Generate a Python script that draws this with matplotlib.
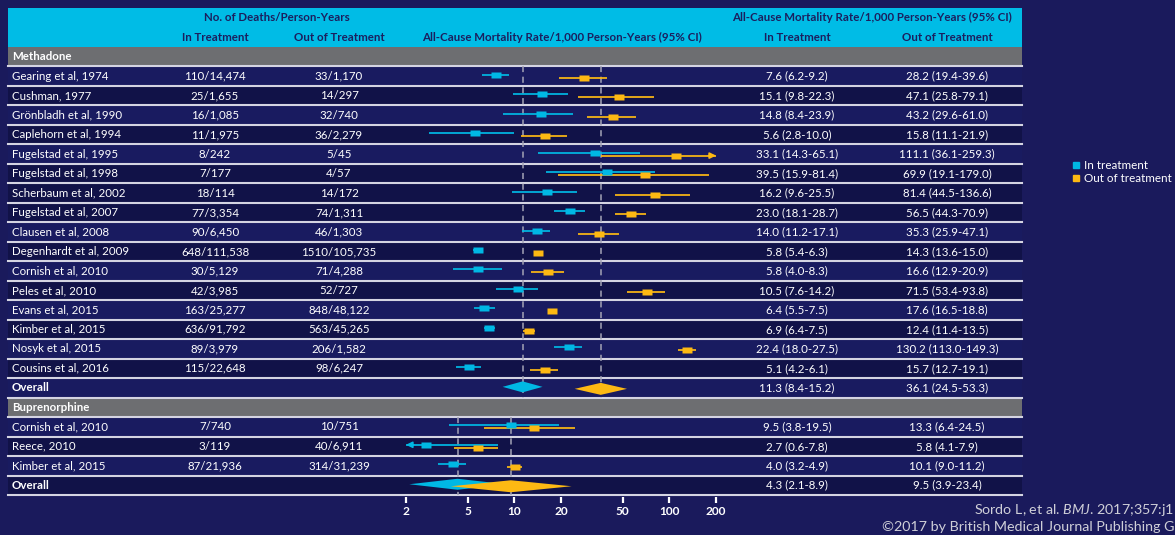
"""
Forest plot: all-cause mortality in / out of opioid substitution treatment
(Sordo et al, BMJ 2017)
"""
import numpy as np
import matplotlib
matplotlib.use('Agg')
import matplotlib.pyplot as plt
from matplotlib.lines import Line2D
from matplotlib.path import Path

plt.rcParams['font.family'] = ['Lato', 'DejaVu Sans']
plt.rcParams['mathtext.fontset'] = 'custom'
plt.rcParams['mathtext.it'] = 'Lato:italic'
plt.rcParams['mathtext.rm'] = 'Lato'

# === data ===
meth_studies = ["Gearing et al, 1974", "Cushman, 1977", "Grönbladh et al, 1990",
                "Caplehorn et al, 1994", "Fugelstad et al, 1995", "Fugelstad et al, 1998",
                "Scherbaum et al, 2002", "Fugelstad et al, 2007", "Clausen et al, 2008",
                "Degenhardt et al, 2009", "Cornish et al, 2010", "Peles et al, 2010",
                "Evans et al, 2015", "Kimber et al, 2015", "Nosyk et al, 2015",
                "Cousins et al, 2016"]
meth_deaths_in = ["110/14,474", "25/1,655", "16/1,085", "11/1,975", "8/242", "7/177",
                  "18/114", "77/3,354", "90/6,450", "648/111,538", "30/5,129", "42/3,985",
                  "163/25,277", "636/91,792", "89/3,979", "115/22,648"]
meth_deaths_out = ["33/1,170", "14/297", "32/740", "36/2,279", "5/45", "4/57", "14/172",
                   "74/1,311", "46/1,303", "1510/105,735", "71/4,288", "52/727",
                   "848/48,122", "563/45,265", "206/1,582", "98/6,247"]
meth_rate_in = [7.6, 15.1, 14.8, 5.6, 33.1, 39.5, 16.2, 23.0, 14.0, 5.8, 5.8, 10.5, 6.4, 6.9, 22.4, 5.1]
meth_lo_in   = [6.2, 9.8, 8.4, 2.8, 14.3, 15.9, 9.6, 18.1, 11.2, 5.4, 4.0, 7.6, 5.5, 6.4, 18.0, 4.2]
meth_hi_in   = [9.2, 22.3, 23.9, 10.0, 65.1, 81.4, 25.5, 28.7, 17.1, 6.3, 8.3, 14.2, 7.5, 7.5, 27.5, 6.1]
meth_rate_out = [28.2, 47.1, 43.2, 15.8, 111.1, 69.9, 81.4, 56.5, 35.3, 14.3, 16.6, 71.5, 17.6, 12.4, 130.2, 15.7]
meth_lo_out   = [19.4, 25.8, 29.6, 11.1, 36.1, 19.1, 44.5, 44.3, 25.9, 13.6, 12.9, 53.4, 16.5, 11.4, 113.0, 12.7]
meth_hi_out   = [39.6, 79.1, 61.0, 21.9, 259.3, 179.0, 136.6, 70.9, 47.1, 15.0, 20.9, 93.8, 18.8, 13.5, 149.3, 19.1]
meth_overall_in = (11.3, 8.4, 15.2)
meth_overall_out = (36.1, 24.5, 53.3)

bup_studies = ["Cornish et al, 2010", "Reece, 2010", "Kimber et al, 2015"]
bup_deaths_in = ["7/740", "3/119", "87/21,936"]
bup_deaths_out = ["10/751", "40/6,911", "314/31,239"]
bup_rate_in = [9.5, 2.7, 4.0]
bup_lo_in   = [3.8, 0.6, 3.2]
bup_hi_in   = [19.5, 7.8, 4.9]
bup_rate_out = [13.3, 5.8, 10.1]
bup_lo_out   = [6.4, 4.1, 9.0]
bup_hi_out   = [24.5, 7.9, 11.2]
bup_overall_in = (4.3, 2.1, 8.9)
bup_overall_out = (9.5, 3.9, 23.4)

xticks = [2, 5, 10, 20, 50, 100, 200]

# === styles ===
BG = '#1a1a5c'
ROW_LIGHT = '#191b60'
ROW_DARK = '#111248'
HEAD = '#00bce6'
HEAD_TXT = '#1b1f5e'
GRAY = '#6d6e71'
CYAN = '#00b8e4'
ORANGE = '#fdb913'
SEP = '#d4d4e2'
FS = 8.3

W, H = 1175, 535
fig = plt.figure(figsize=(W / 100, H / 100), dpi=100, facecolor=BG)
tab = fig.add_axes([0, 0, 1, 1])
tab.set_xlim(0, W); tab.set_ylim(H, 0); tab.axis('off')

X0, X1 = 8, 1022
RH = 19.48
TOP = 8
# row shading of the reference (1 = light)
meth_shade = [1, 0, 1, 0, 1, 0, 0, 0, 1, 0, 1, 0, 1, 0, 1, 0, 1]
bup_shade = [1, 0, 1, 0]

def row_top(k):
    return TOP + k * RH

def band(k, color):
    tab.fill_between([X0, X1], row_top(k), row_top(k) + RH, color=color, lw=0, zorder=1)

# header
tab.fill_between([X0, X1], row_top(0), row_top(2), color=HEAD, lw=0, zorder=1)
hy1, hy2 = row_top(0) + RH / 2, row_top(1) + RH / 2
tab.text(277, hy1, "No. of Deaths/Person-Years", color=HEAD_TXT, weight='bold', fontsize=FS, ha='center', va='center', zorder=3)
tab.text(872, hy1, "All-Cause Mortality Rate/1,000 Person-Years (95% CI)", color=HEAD_TXT, weight='bold', fontsize=FS, ha='center', va='center', zorder=3)
for x, s in [(215, "In Treatment"), (339, "Out of Treatment"),
             (562, "All-Cause Mortality Rate/1,000 Person-Years (95% CI)"),
             (797, "In Treatment"), (947, "Out of Treatment")]:
    tab.text(x, hy2, s, color=HEAD_TXT, weight='bold', fontsize=FS, ha='center', va='center', zorder=3)

# build the row list
rows = []
rows.append(('section', "Methadone"))
for i, s in enumerate(meth_studies):
    rows.append(('study', s, meth_deaths_in[i], meth_deaths_out[i],
                 (meth_rate_in[i], meth_lo_in[i], meth_hi_in[i]),
                 (meth_rate_out[i], meth_lo_out[i], meth_hi_out[i]), meth_shade[i]))
rows.append(('overall', "Overall", "", "", meth_overall_in, meth_overall_out, meth_shade[-1]))
rows.append(('section', "Buprenorphine"))
for i, s in enumerate(bup_studies):
    rows.append(('study', s, bup_deaths_in[i], bup_deaths_out[i],
                 (bup_rate_in[i], bup_lo_in[i], bup_hi_in[i]),
                 (bup_rate_out[i], bup_lo_out[i], bup_hi_out[i]), bup_shade[i]))
rows.append(('overall', "Overall", "", "", bup_overall_in, bup_overall_out, bup_shade[-1]))

# forest axes
ax = fig.add_axes([406 / W, 1 - 497 / H, 310 / W, (497 - TOP) / H])
ax.set_facecolor('none')
ax.set_xscale('log')
XMIN, XMAX = 2, 200
ax.set_xlim(XMIN, XMAX)
ax.set_ylim(497, TOP)
for sp in ax.spines.values():
    sp.set_visible(False)
ax.set_yticks([])
ax.set_xticks(xticks)
ax.set_xticklabels([str(t) for t in xticks], color='white', weight='bold', fontsize=8.6)
ax.xaxis.set_minor_locator(matplotlib.ticker.NullLocator())
ax.tick_params(axis='x', colors='white', length=4.3, width=1.6, pad=2)

rect = Path([(-1, -0.55), (1, -0.55), (1, 0.55), (-1, 0.55), (-1, -0.55)],
            [Path.MOVETO, Path.LINETO, Path.LINETO, Path.LINETO, Path.CLOSEPOLY])

def ci(yc, est, lo, hi, color):
    a, b = max(lo, XMIN), min(hi, XMAX)
    ax.plot([a, b], [yc, yc], color=color, lw=1.25, solid_capstyle='butt', zorder=4)
    if hi > XMAX:
        ax.annotate('', xy=(XMAX, yc), xytext=(XMAX / 1.12, yc),
                    arrowprops=dict(arrowstyle='-|>', color=color, lw=1.2, mutation_scale=9,
                                    shrinkA=0, shrinkB=0), zorder=4)
    if lo < XMIN:
        ax.annotate('', xy=(XMIN, yc), xytext=(XMIN * 1.12, yc),
                    arrowprops=dict(arrowstyle='-|>', color=color, lw=1.2, mutation_scale=9,
                                    shrinkA=0, shrinkB=0), zorder=4)
    ax.plot([est], [yc], marker=rect, ms=7.0, color=color, mec='none', ls='none', zorder=5)

def diamond(yc, est, lo, hi, color, hh):
    ax.fill([lo, est, hi, est], [yc, yc - hh, yc, yc + hh], color=color, lw=0, zorder=5)

k = 2
group = []
for r in rows:
    y0 = row_top(k)
    yc = y0 + RH / 2
    if r[0] == 'section':
        band(k, GRAY)
        tab.text(12, yc, r[1], color='white', weight='bold', fontsize=FS, va='center', zorder=3)
        group = [k + 1]
    else:
        kind, label, din, dout, vin, vout, shade = r
        band(k, ROW_LIGHT if shade else ROW_DARK)
        bold = 'bold' if kind == 'overall' else 'normal'
        tab.text(12, yc, label, color='white', weight=bold, fontsize=FS, va='center', zorder=3)
        tab.text(215, yc, din, color='white', fontsize=FS, ha='center', va='center', zorder=3)
        tab.text(339, yc, dout, color='white', fontsize=FS, ha='center', va='center', zorder=3)
        tab.text(797, yc, f"{vin[0]} ({vin[1]}-{vin[2]})", color='white', fontsize=FS, ha='center', va='center', zorder=3)
        tab.text(947, yc, f"{vout[0]} ({vout[1]}-{vout[2]})", color='white', fontsize=FS, ha='center', va='center', zorder=3)
        if kind == 'study':
            ci(yc - 1.5, *vin, CYAN)
            ci(yc + 1.5, *vout, ORANGE)
        else:
            diamond(yc - 1, *vin, CYAN, 5.5)
            diamond(yc + 1, *vout, ORANGE, 6)
            # dashed reference lines at the pooled estimates
            ytop, ybot = row_top(group[0]), y0 + RH
            for v in (vin[0], vout[0]):
                ax.plot([v, v], [ytop, ybot], color='#a4a4b6', lw=1.1, ls=(0, (4, 3)), zorder=3)
    # separator below each row
    tab.plot([X0, X1], [y0 + RH, y0 + RH], color=SEP, lw=1.5, zorder=2)
    k += 1

# legend
handles = [Line2D([], [], marker='s', ls='none', color=CYAN, ms=5, label='In treatment'),
           Line2D([], [], marker='s', ls='none', color=ORANGE, ms=5, label='Out of treatment')]
fig.legend(handles=handles, loc='upper left', bbox_to_anchor=(1065 / W, 1 - 155 / H),
           frameon=False, fontsize=8.4, labelcolor='white', handletextpad=0.25,
           handlelength=1.0, borderaxespad=0, labelspacing=0.2)

# source (cut at the right edge in the original)
tab.text(1174, 510, r"Sordo L, et al. $\mathit{BMJ}$. 2017;357:j1", color='#cfcfd8',
         fontsize=10.3, va='center', ha='right', zorder=3)
tab.text(1174, 527, "©2017 by British Medical Journal Publishing G", color='#cfcfd8',
         fontsize=10.3, va='center', ha='right', zorder=3)

fig.savefig('out.png', dpi=100, facecolor=BG)
